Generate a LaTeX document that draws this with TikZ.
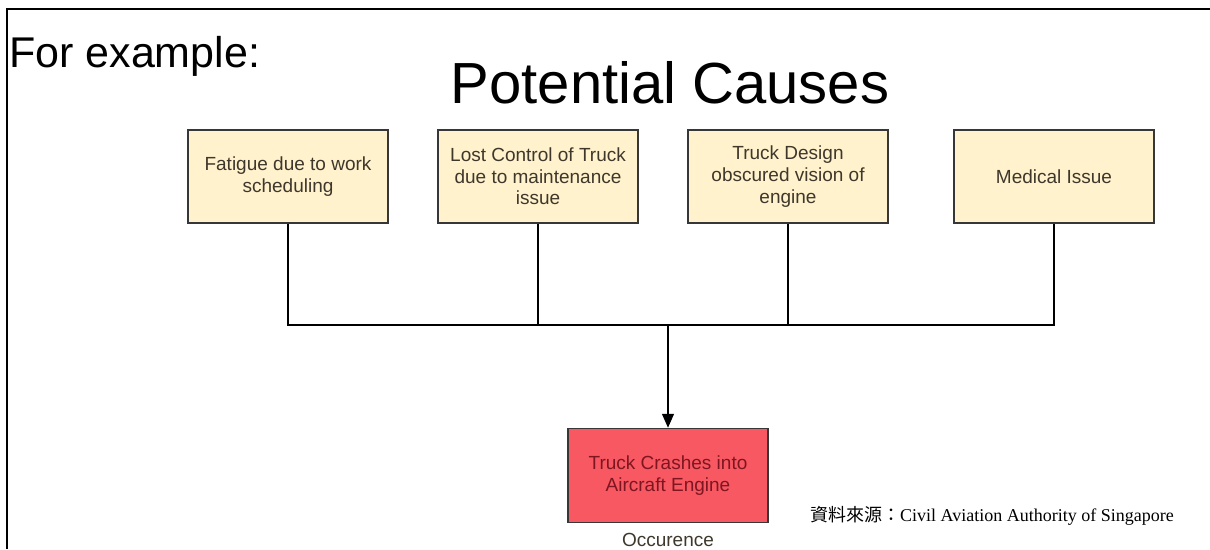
\documentclass[tikz,border=0pt]{standalone}
\usepackage{fontspec}
\setmainfont{Liberation Sans}
\newfontfamily\serifl{Liberation Serif}
\newfontfamily\cjk{Noto Sans CJK TC}
\usetikzlibrary{arrows.meta}
\definecolor{causefill}{RGB}{255,242,204}
\definecolor{causetext}{RGB}{62,56,44}
\definecolor{boxline}{RGB}{55,55,55}
\definecolor{occfill}{RGB}{248,88,98}
\definecolor{occtext}{RGB}{125,22,32}
\begin{document}
\begin{tikzpicture}[x=1pt,y=-1pt,
  cause/.style={draw=boxline, line width=1.5pt, fill=causefill, minimum width=200pt,
    minimum height=93pt, inner sep=0pt, align=center, text=causetext,
    font=\fontsize{19}{21.7}\selectfont},
  occbox/.style={draw=boxline, line width=1.5pt, fill=occfill, minimum width=200pt,
    minimum height=94pt, inner sep=0pt, align=center, text=occtext,
    font=\fontsize{19}{21.7}\selectfont},
  conn/.style={draw=black, line width=1.3pt},
  label/.style={inner sep=0pt, anchor=base}
]
\useasboundingbox (0,0) rectangle (1210,549);
\draw[line width=2.2pt] (7,549) -- (7,8.8) -- (1212,8.8);

\node[label, anchor=base west, font=\fontsize{43}{50}\selectfont] (ex) at (9,67) {For example:};
\node[label, font=\fontsize{58}{66}\selectfont] (title) at (670,103) {Potential Causes};

\node[cause] (c1) at (288,176.5) {Fatigue due to work\\scheduling};
\node[cause] (c2) at (538,176.5) {Lost Control of Truck\\due to maintenance\\issue};
\node[cause] (c3) at (788,176.5) {Truck Design\\obscured vision of\\engine};
\node[cause] (c4) at (1054,176.5) {Medical Issue};

\node[occbox] (occ) at (668,475.5) {Truck Crashes into\\Aircraft Engine};
\node[label, text=causetext, font=\fontsize{19}{22}\selectfont] (occlbl) at (668,546) {Occurence};

\coordinate (j) at (668,325);
\draw[conn] (c1.south) |- (j);
\draw[conn] (c4.south) |- (j);
\draw[conn] (c2.south) -- (c2.south |- j);
\draw[conn] (c3.south) -- (c3.south |- j);
\draw[conn, -{Triangle[width=12pt,length=14pt]}] (j) -- (occ.north);

\node[label, anchor=base west, font=\fontsize{18}{20}\selectfont] (src) at (810,521)
  {{\cjk 資料來源：}{\serifl Civil Aviation Authority of Singapore}};
\end{tikzpicture}
\end{document}
